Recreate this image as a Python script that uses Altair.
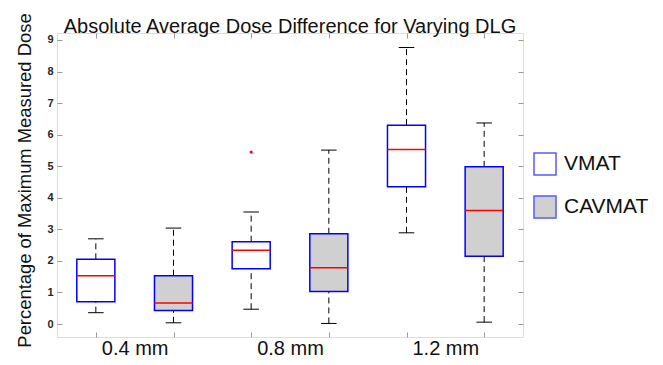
import altair as alt
import pandas as pd
import numpy as np

groups = ["0.4 mm", "0.8 mm", "1.2 mm"]
methods = ["VMAT", "CAVMAT"]
whisker_low = [0.36, 0.04, 0.47, 0.02, 2.89, 0.06]
q1 = [0.71, 0.43, 1.75, 1.03, 4.35, 2.15]
median = [1.53, 0.67, 2.34, 1.78, 5.53, 3.60]
q3 = [2.05, 1.53, 2.61, 2.86, 6.30, 4.98]
whisker_high = [2.70, 3.04, 3.55, 5.51, 8.76, 6.37]
outlier_group = ["0.8 mm"]
outlier_method = ["VMAT"]
outlier_value = [5.45]

df = pd.DataFrame({
    "group": np.repeat(groups, len(methods)),
    "method": methods * len(groups),
    "lo": whisker_low, "q1": q1, "med": median, "q3": q3, "hi": whisker_high,
})
df["pos"] = np.arange(1, len(df) + 1)

out_df = pd.DataFrame({"group": outlier_group, "method": outlier_method, "value": outlier_value})
out_df = out_df.merge(df[["group", "method", "pos"]], on=["group", "method"])

FONT = "Liberation Sans"
W, H = 466, 304
xs = alt.Scale(domain=[0.5, 6.5], nice=False, zero=False)
ys = alt.Scale(domain=[-0.41, 9.22], nice=False, zero=False)

label_expr = ("datum.value == 1.5 ? '0.4 mm' : datum.value == 3.5 ? '0.8 mm' : "
              "datum.value == 5.5 ? '1.2 mm' : ''")
tick_cond = {"condition": {"test": "datum.value % 1 == 0", "value": "#9a9a9a"}, "value": "transparent"}

x_axis_bottom = alt.Axis(
    values=[1, 1.5, 2, 3, 3.5, 4, 5, 5.5, 6], labelExpr=label_expr, offset=-5,
    tickSize=5, tickColor=tick_cond, domain=False, grid=False, labelOverlap=False,
    labelFontSize=20, labelFont=FONT, labelColor="#111111", labelPadding=1,
    labelFlush=False, title=None,
)
y_axis_left = alt.Axis(
    values=list(range(0, 10)), offset=-5, tickSize=5, tickColor="#9a9a9a", domain=False,
    grid=False, labelFontSize=11, labelFontWeight="bold", labelFont=FONT,
    labelColor="#262626", labelPadding=4,
    title="Percentage of Maximum Measured Dose", titleFontSize=18.4, titleFont=FONT,
    titleFontWeight="normal", titleColor="#111111", titlePadding=12, titleY=147,
)
x_axis_top = alt.Axis(orient="top", values=[1, 2, 3, 4, 5, 6], offset=-5, tickSize=5,
                      tickColor="#9a9a9a", domain=False, labels=False, grid=False, title=None)
y_axis_right = alt.Axis(orient="right", values=list(range(0, 10)), offset=-5, tickSize=5,
                        tickColor="#9a9a9a", domain=False, labels=False, grid=False, title=None)

base = alt.Chart(df).transform_calculate(
    xa="datum.pos - 0.245", xb="datum.pos + 0.245",
    ca="datum.pos - 0.1", cb="datum.pos + 0.1",
)

whisk_lo = base.mark_rule(color="black", strokeDash=[6, 4], strokeWidth=1).encode(
    x=alt.X("pos:Q", scale=xs, axis=None),
    y=alt.Y("lo:Q", scale=ys, axis=None), y2="q1:Q")
whisk_hi = base.mark_rule(color="black", strokeDash=[6, 4], strokeWidth=1).encode(
    x=alt.X("pos:Q", scale=xs, axis=None),
    y=alt.Y("q3:Q", scale=ys, axis=None), y2="hi:Q")
cap_lo = base.mark_rule(color="black", strokeWidth=1).encode(
    x=alt.X("ca:Q", scale=xs, axis=None), x2="cb:Q",
    y=alt.Y("lo:Q", scale=ys, axis=None))
cap_hi = base.mark_rule(color="black", strokeWidth=1).encode(
    x=alt.X("ca:Q", scale=xs, axis=None), x2="cb:Q",
    y=alt.Y("hi:Q", scale=ys, axis=None))

box = base.mark_rect(stroke="#0000ff", strokeWidth=1.5).encode(
    x=alt.X("xa:Q", scale=xs, axis=x_axis_bottom), x2="xb:Q",
    y=alt.Y("q1:Q", scale=ys, axis=y_axis_left), y2="q3:Q",
    fill=alt.Fill("method:N", scale=alt.Scale(domain=methods, range=["#ffffff", "#d0d0d0"]),
                  legend=alt.Legend(orient="none", legendX=476, legendY=119, title=None,
                                    symbolType="square", symbolSize=484,
                                    symbolStrokeColor="#5a5aff", symbolStrokeWidth=1.5,
                                    labelFontSize=21, labelFont=FONT, labelColor="#111111",
                                    labelOffset=7, rowPadding=15, padding=0)),
)
med = base.mark_rule(color="#ff0000", strokeWidth=1.5).encode(
    x=alt.X("xa:Q", scale=xs, axis=None), x2="xb:Q",
    y=alt.Y("med:Q", scale=ys, axis=None))

outl = alt.Chart(out_df).mark_point(shape="circle", filled=True, color="#ff0000", size=10, opacity=1).encode(
    x=alt.X("pos:Q", scale=xs, axis=x_axis_top),
    y=alt.Y("value:Q", scale=ys, axis=y_axis_right))

chart = alt.layer(whisk_lo, whisk_hi, box, med, cap_lo, cap_hi, outl).resolve_axis(
    x="independent", y="independent"
).properties(
    width=W, height=H,
    title=alt.TitleParams("Absolute Average Dose Difference for Varying DLG", fontSize=20,
                          fontWeight="normal", font=FONT, color="#111111", anchor="middle",
                          offset=2, dy=26),
    autosize=alt.AutoSizeParams(type="none"),
    padding={"left": 49, "top": 25, "right": 130, "bottom": 20},
).configure_view(stroke="#bdbdbd", strokeWidth=1).configure(background="white")

chart.save("out.html", embed_options={"renderer": "svg", "actions": False})
